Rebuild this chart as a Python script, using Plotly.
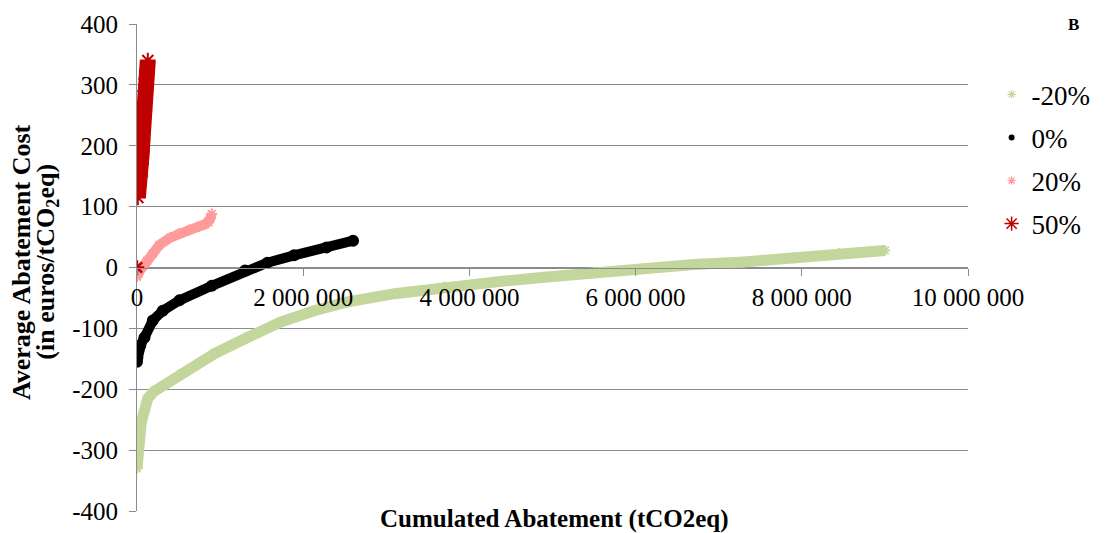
import plotly.graph_objects as go

# ---- data (cumulated abatement in tCO2eq, average cost in euros/tCO2eq) ----
neg20_x = [0, 5000, 10000, 20000, 30000, 50000, 80000, 130000, 200000, 300000, 540000,
           940000, 1330000, 1720000, 2130000, 2520000, 3100000, 3700000, 4300000, 4900000,
           5500000, 6100000, 6700000, 7300000, 7900000, 8450000, 9000000]
neg20_y = [-330, -312, -300, -285, -268, -255, -240, -215, -204, -195, -174,
           -141, -115, -90, -71, -57, -43, -32, -24, -16,
           -8, -2, 5, 9, 16, 23, 28]

zero_x = [0, 5000, 10000, 20000, 40000, 90000, 190000, 310000, 510000, 900000,
          1300000, 1570000, 1890000, 2280000, 2600000]
zero_y = [-155, -148, -140, -136, -128, -115, -87, -71, -54, -30,
          -5, 8, 20, 33, 44]

pos20_x = [0, 10000, 35000, 80000, 120000, 190000, 270000, 400000, 510000, 630000,
           740000, 820000, 860000, 880000, 900000]
pos20_y = [-15, -10, -5, 3, 11, 23, 37, 49, 56, 62, 67, 71, 74, 80, 88]

pos50_x = [10000, 10000, 15000, 40000, 50000, 58000, 66000, 75000, 82000, 90000,
           98000, 110000, 118000, 130000]
pos50_y = [115, 125, 135, 150, 170, 190, 210, 230, 250, 270, 290, 310, 325, 340]
pos50_extra_x = [0]
pos50_extra_y = [0]

series_names = ["-20%", "0%", "20%", "50%"]
y_ticks = [-400, -300, -200, -100, 0, 100, 200, 300, 400]
y_tick_labels = ["-400", "-300", "-200", "-100", "0", "100", "200", "300", "400"]
x_ticks = [0, 2000000, 4000000, 6000000, 8000000, 10000000]

GREEN = "#c3d69b"
BLACK = "#000000"
PINK = "#ff9b9b"
RED = "#c00000"
GRID = "#8c8c8c"
FONT = "Liberation Serif, Times New Roman, Times, serif"

fig = go.Figure()

def band(x, y, color, width, symbol, msize):
    fig.add_trace(go.Scatter(x=x, y=y, mode="lines", showlegend=False, hoverinfo="skip",
                             line=dict(color=color, width=width)))
    fig.add_trace(go.Scatter(x=x, y=y, mode="markers", showlegend=False,
                             marker=dict(symbol=symbol, size=msize, color=color,
                                         line=dict(color=color, width=2))))

band(neg20_x, neg20_y, GREEN, 11, "asterisk-open", 9)
band(zero_x, zero_y, BLACK, 10, "circle", 10)
band(pos20_x, pos20_y, PINK, 10, "asterisk-open", 9)
band(pos50_x, pos50_y, RED, 16, "asterisk-open", 13)
fig.add_trace(go.Scatter(x=pos50_extra_x, y=pos50_extra_y, mode="markers", showlegend=False,
                         marker=dict(symbol="asterisk-open", size=12, color=RED,
                                     line=dict(color=RED, width=2.5))))

# legend-only entries
leg_styles = [("asterisk-open", 7, GREEN, 1.2), ("circle", 6, BLACK, 0),
              ("asterisk-open", 7, PINK, 1.2), ("asterisk-open", 12, RED, 1.5)]
for name, (sym, sz, col, lw) in zip(series_names, leg_styles):
    fig.add_trace(go.Scatter(x=[None], y=[None], mode="markers", name=name, legendgroup=name,
                             marker=dict(symbol=sym, size=sz, color=col,
                                         line=dict(color=col, width=lw))))

fig.update_layout(
    width=1100, height=525,
    margin=dict(l=129, r=125, t=16, b=22),
    paper_bgcolor="white", plot_bgcolor="white",
    separators=". ",
    font=dict(family=FONT, size=25, color="black"),
    showlegend=True,
    legend=dict(x=1.0284, xanchor="left", y=0.905, yanchor="top",
                font=dict(family=FONT, size=27, color="black"),
                tracegroupgap=5, itemwidth=30, bgcolor="rgba(0,0,0,0)"),
    xaxis=dict(range=[0, 10000000], tickvals=x_ticks, anchor="free", position=0.5,
               showgrid=False, zeroline=False, showline=True, linecolor=GRID, linewidth=1,
               ticks="outside", ticklen=7, tickcolor=GRID, tickformat=",d",
               automargin=False,
               tickfont=dict(family=FONT, size=25, color="black")),
    yaxis=dict(range=[-400, 400], tickvals=y_ticks, ticktext=y_tick_labels,
               showgrid=True, gridcolor=GRID, gridwidth=1, zeroline=False,
               showline=True, linecolor=GRID, linewidth=1, automargin=False,
               ticks="outside", ticklen=7, tickcolor=GRID, ticklabelstandoff=6,
               tickfont=dict(family=FONT, size=25, color="black")),
    annotations=[
        dict(text="<b>Cumulated Abatement (tCO2eq)</b>", xref="paper", yref="paper",
             x=0.503, y=-0.016, xanchor="center", yanchor="middle", showarrow=False,
             font=dict(family=FONT, size=25, color="black")),
        dict(text="<b>Average Abatement Cost</b>",
             xref="paper", yref="paper", x=(19 - 137) / 846, y=(511 - 262) / 487,
             xanchor="center", yanchor="middle", textangle=-90, showarrow=False,
             font=dict(family=FONT, size=26, color="black")),
        dict(text="<b>(in euros/tCO<sub>2</sub>eq)</b>",
             xref="paper", yref="paper", x=(45 - 137) / 846, y=(511 - 262) / 487,
             xanchor="center", yanchor="middle", textangle=-90, showarrow=False,
             font=dict(family=FONT, size=26, color="black")),
        dict(text="<b>B</b>", xref="paper", yref="paper", x=(1090 - 137) / 846,
             y=(511 - 25) / 487, xanchor="center", yanchor="middle", showarrow=False,
             font=dict(family=FONT, size=17, color="black")),
    ],
)

fig.write_html("out.html")
